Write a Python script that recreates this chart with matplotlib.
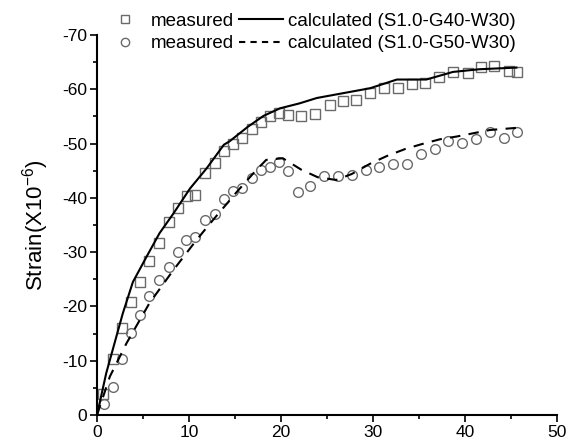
import matplotlib
matplotlib.use("Agg")
import matplotlib.pyplot as plt
from matplotlib.lines import Line2D
from matplotlib.ticker import MultipleLocator

plt.rcParams['font.family'] = ['Liberation Sans', 'DejaVu Sans']
plt.rcParams['axes.unicode_minus'] = False
plt.rcParams['mathtext.fontset'] = 'custom'
plt.rcParams['mathtext.rm'] = 'Liberation Sans'

# measured, S1.0-G40-W30 (squares)
sq_x = [0.65, 1.75, 2.7, 3.7, 4.7, 5.7, 6.75, 7.8, 8.8, 9.8, 10.7, 11.75, 12.8, 13.8, 14.8,
        15.8, 16.8, 17.8, 18.8, 19.8, 20.8, 22.2, 23.7, 25.3, 26.7, 28.2, 29.7, 31.2, 32.7,
        34.2, 35.7, 37.2, 38.7, 40.3, 41.7, 43.2, 44.8, 45.7]
sq_y = [-3.9, -10.4, -16.0, -20.9, -24.5, -28.4, -31.6, -35.6, -38.1, -40.4, -40.5, -44.6,
        -46.4, -48.7, -49.9, -51.0, -52.6, -54.0, -55.1, -55.6, -55.2, -55.1, -55.4, -57.2,
        -57.9, -58.1, -59.4, -60.2, -60.2, -61.0, -61.2, -62.2, -63.2, -63.0, -64.1, -64.3,
        -63.4, -63.2]

# measured, S1.0-G50-W30 (circles)
ci_x = [0.73, 1.75, 2.75, 3.7, 4.7, 5.7, 6.75, 7.8, 8.8, 9.7, 10.7, 11.75, 12.8, 13.8, 14.8,
        15.8, 16.8, 17.8, 18.8, 19.8, 20.8, 21.8, 23.2, 24.7, 26.2, 27.7, 29.2, 30.7, 32.2,
        33.7, 35.2, 36.7, 38.2, 39.7, 41.2, 42.7, 44.3, 45.7]
ci_y = [-2.0, -5.1, -10.3, -15.1, -18.4, -21.9, -24.9, -27.3, -30.1, -32.2, -32.8, -36.0,
        -37.1, -39.8, -41.3, -41.9, -43.6, -45.1, -45.7, -46.6, -45.0, -41.0, -42.1, -44.0,
        -44.0, -44.3, -45.1, -45.7, -46.3, -46.3, -48.0, -49.0, -50.5, -50.2, -50.8, -52.2,
        -51.1, -52.2]

# calculated curves
c1_x = [0, 1.0, 2.8, 3.9, 5.4, 6.8, 8.3, 10.1, 11.9, 13.8, 14.4, 16.4, 18.1, 19.9, 22.0,
        23.9, 29.7, 32.6, 35.8, 38.7, 41.6, 45.6]
c1_y = [0, -7.7, -18.7, -24.5, -29.2, -33.5, -37.1, -41.7, -45.4, -49.8, -50.4, -53.1,
        -55.1, -56.5, -57.4, -58.4, -60.2, -61.8, -61.8, -63.2, -63.7, -64.0]

c2_x = [0, 1.4, 3.2, 5.7, 8.3, 10.8, 12.3, 15.2, 17.3, 18.4, 20.2, 22.2, 24.0, 26.0, 27.7,
        29.7, 31.5, 33.5, 35.3, 37.3, 39.1, 40.9, 42.7, 44.9, 45.6]
c2_y = [0, -7.1, -13.2, -20.6, -26.7, -32.2, -35.3, -41.1, -45.1, -47.0, -47.3, -45.2,
        -43.8, -43.3, -44.4, -46.3, -47.7, -49.0, -49.9, -50.8, -51.3, -51.9, -52.5, -52.8,
        -52.9]

labels = ['measured', 'measured',
          'calculated (S1.0-G40-W30)', 'calculated (S1.0-G50-W30)']

gray = '#6a6a6a'

fig = plt.figure(figsize=(5.66, 4.45), dpi=100)
ax = fig.add_axes([0.1714, 0.0674, 0.8125, 0.8539])

ax.plot(c1_x, c1_y, color='black', lw=1.5, zorder=3)
ax.plot(c2_x, c2_y, color='black', lw=1.5, dashes=(5, 4), zorder=3)
ax.plot(sq_x, sq_y, ls='none', marker='s', ms=6.5, mfc='none', mec=gray, mew=1.0)
ax.plot(ci_x, ci_y, ls='none', marker='o', ms=7, mfc='none', mec=gray, mew=1.0)

ax.set_xlim(0, 50)
ax.set_ylim(0, -70)
ax.xaxis.set_major_locator(MultipleLocator(10))
ax.xaxis.set_minor_locator(MultipleLocator(5))
ax.yaxis.set_major_locator(MultipleLocator(10))
ax.yaxis.set_minor_locator(MultipleLocator(5))
ax.tick_params(which='major', direction='out', length=5, width=1.2, labelsize=12.5, pad=2)
ax.tick_params(which='minor', direction='out', length=3, width=1.2)
for s in ['top', 'right']:
    ax.spines[s].set_visible(False)
for s in ['left', 'bottom']:
    ax.spines[s].set_linewidth(1.5)

ax.set_ylabel('Strain(X10$^{\\mathrm{-6}}$)', fontsize=16, labelpad=8)

handles = [
    Line2D([], [], ls='none', marker='s', ms=6, mfc='none', mec=gray, mew=1.0),
    Line2D([], [], ls='none', marker='o', ms=6, mfc='none', mec=gray, mew=1.0),
    Line2D([], [], color='black', lw=1.5),
    Line2D([], [], color='black', lw=1.5, dashes=(3, 2.5)),
]
fig.legend(handles, labels, ncol=2, loc='upper left', bbox_to_anchor=(0.182, 0.972),
           frameon=False, fontsize=13.5, handlelength=2.3, handletextpad=0.27,
           columnspacing=0.27, labelspacing=0.3, borderpad=0, borderaxespad=0)

fig.savefig('out.png', dpi=100)
